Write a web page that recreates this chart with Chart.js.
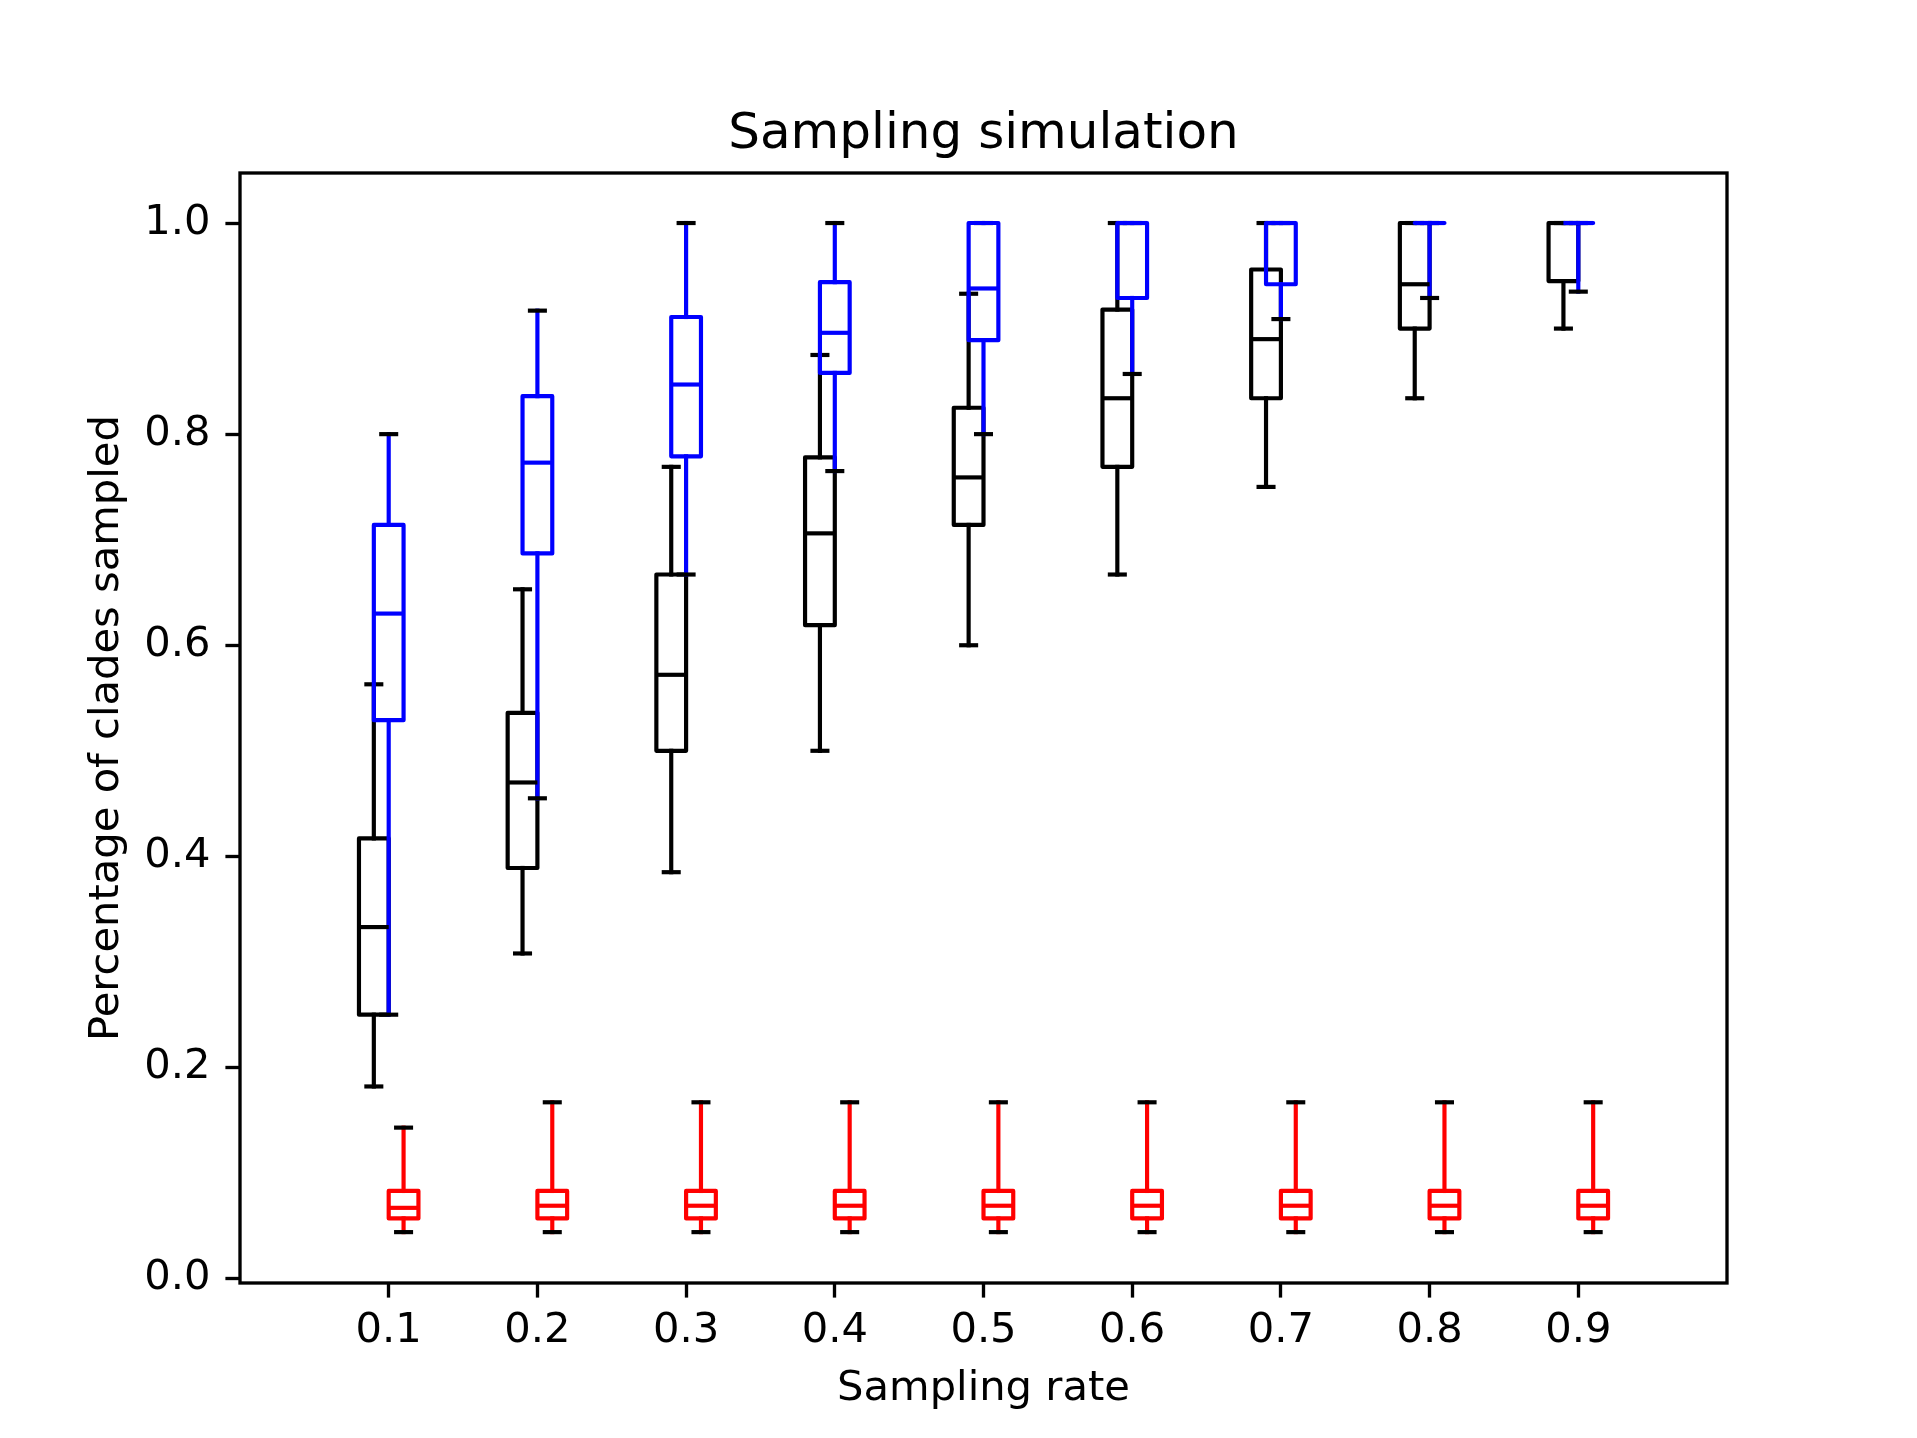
<!DOCTYPE html>
<html>
<head>
<meta charset="utf-8">
<script src="https://cdn.jsdelivr.net/npm/chart.js@4.4.1/dist/chart.umd.min.js"></script>
<style>
  html, body { margin: 0; padding: 0; background: #fff; }
  canvas { display: block; }
</style>
</head>
<body>
<canvas id="chart" width="1917" height="1438"></canvas>
<script>
// sampling rates (x categories) and their tick labels
const rates = [0.1, 0.2, 0.3, 0.4, 0.5, 0.6, 0.7, 0.8, 0.9];
const rateLabels = ['0.1', '0.2', '0.3', '0.4', '0.5', '0.6', '0.7', '0.8', '0.9'];
const yTicks = [0.0, 0.2, 0.4, 0.6, 0.8, 1.0];

// each entry: [lower whisker, q1, median, q3, upper whisker]
const blackStats = [
  [0.182, 0.250, 0.333, 0.417, 0.563],
  [0.308, 0.389, 0.470, 0.536, 0.653],
  [0.385, 0.500, 0.572, 0.667, 0.769],
  [0.500, 0.619, 0.706, 0.778, 0.875],
  [0.600, 0.714, 0.759, 0.825, 0.933],
  [0.667, 0.769, 0.834, 0.918, 1.000],
  [0.750, 0.834, 0.890, 0.956, 1.000],
  [0.834, 0.900, 0.942, 1.000, 1.000],
  [0.900, 0.945, 1.000, 1.000, 1.000]
];
const blueStats = [
  [0.250, 0.529, 0.630, 0.714, 0.800],
  [0.455, 0.687, 0.773, 0.836, 0.917],
  [0.667, 0.779, 0.847, 0.911, 1.000],
  [0.765, 0.858, 0.896, 0.944, 1.000],
  [0.800, 0.889, 0.938, 1.000, 1.000],
  [0.857, 0.929, 1.000, 1.000, 1.000],
  [0.909, 0.942, 1.000, 1.000, 1.000],
  [0.929, 1.000, 1.000, 1.000, 1.000],
  [0.935, 1.000, 1.000, 1.000, 1.000]
];
const redStats = [
  [0.044, 0.057, 0.067, 0.083, 0.143],
  [0.044, 0.057, 0.069, 0.083, 0.167],
  [0.044, 0.057, 0.069, 0.083, 0.167],
  [0.044, 0.057, 0.069, 0.083, 0.167],
  [0.044, 0.057, 0.069, 0.083, 0.167],
  [0.044, 0.057, 0.069, 0.083, 0.167],
  [0.044, 0.057, 0.069, 0.083, 0.167],
  [0.044, 0.057, 0.069, 0.083, 0.167],
  [0.044, 0.057, 0.069, 0.083, 0.167]
];

const boxWidth = 0.02;   // in x units
const capWidth = 0.01;
const lineW = 4.17;

function makeDataset(label, stats, offset, color) {
  return {
    label: label,
    data: rates.map((r, i) => ({ x: r + offset, y: stats[i][2], stats: stats[i] })),
    color: color,
    pointRadius: 0,
    showLine: false
  };
}

// draws the boxes from each dataset's points via the chart scales
const boxPlotPlugin = {
  id: 'boxplot',
  afterDatasetsDraw(chart) {
    const ctx = chart.ctx;
    const xs = chart.scales.x, ys = chart.scales.y;
    ctx.save();
    ctx.lineWidth = lineW;
    ctx.lineCap = 'square';
    ctx.lineJoin = 'round';
    const seg = (x1, y1, x2, y2, color) => {
      ctx.strokeStyle = color;
      ctx.beginPath();
      ctx.moveTo(x1, y1);
      ctx.lineTo(x2, y2);
      ctx.stroke();
    };
    chart.data.datasets.forEach(ds => {
      ds.data.forEach(p => {
        const [lo, q1, med, q3, hi] = p.stats;
        const cx = xs.getPixelForValue(p.x);
        const bl = xs.getPixelForValue(p.x - boxWidth / 2);
        const br = xs.getPixelForValue(p.x + boxWidth / 2);
        const cl = xs.getPixelForValue(p.x - capWidth / 2);
        const cr = xs.getPixelForValue(p.x + capWidth / 2);
        // whiskers
        seg(cx, ys.getPixelForValue(q1), cx, ys.getPixelForValue(lo), ds.color);
        seg(cx, ys.getPixelForValue(q3), cx, ys.getPixelForValue(hi), ds.color);
        // caps (black)
        seg(cl, ys.getPixelForValue(lo), cr, ys.getPixelForValue(lo), '#000000');
        seg(cl, ys.getPixelForValue(hi), cr, ys.getPixelForValue(hi), '#000000');
        // box
        ctx.strokeStyle = ds.color;
        ctx.beginPath();
        ctx.moveTo(bl, ys.getPixelForValue(q1));
        ctx.lineTo(br, ys.getPixelForValue(q1));
        ctx.lineTo(br, ys.getPixelForValue(q3));
        ctx.lineTo(bl, ys.getPixelForValue(q3));
        ctx.closePath();
        ctx.stroke();
      });
    });
    // medians on top of everything
    ctx.lineCap = 'butt';
    chart.data.datasets.forEach(ds => {
      ds.data.forEach(p => {
        const y = ys.getPixelForValue(p.stats[2]);
        seg(xs.getPixelForValue(p.x - boxWidth / 2), y, xs.getPixelForValue(p.x + boxWidth / 2), y, ds.color);
      });
    });
    ctx.restore();
  },
  afterDraw(chart) {
    const a = chart.chartArea;
    const ctx = chart.ctx;
    ctx.save();
    ctx.strokeStyle = '#000000';
    ctx.lineWidth = 3.33;
    ctx.lineJoin = 'miter';
    ctx.strokeRect(a.left, a.top, a.right - a.left, a.bottom - a.top);
    ctx.restore();
  }
};

const tickFont = { family: 'DejaVu Sans', size: 41.67 };

const config = {
  type: 'scatter',
  data: {
    datasets: [
      makeDataset('black', blackStats, -0.01, '#000000'),
      makeDataset('blue', blueStats, 0, '#0000ff'),
      makeDataset('red', redStats, 0.01, '#ff0000')
    ]
  },
  options: {
    responsive: false,
    animation: false,
    devicePixelRatio: 1,
    layout: {
      padding: { left: 40, right: 190, top: 0, bottom: 0 }
    },
    plugins: {
      legend: { display: false },
      tooltip: { enabled: false },
      title: {
        display: true,
        text: 'Sampling simulation',
        color: '#000000',
        fullSize: false,
        font: { family: 'DejaVu Sans', size: 50, weight: 'normal' },
        padding: { top: 105, bottom: 8 }
      }
    },
    scales: {
      x: {
        type: 'linear',
        min: 0,
        max: 1,
        afterBuildTicks: scale => { scale.ticks = rates.map(v => ({ value: v })); },
        afterFit: scale => { scale.height = 155; },
        ticks: {
          color: '#000000',
          font: tickFont,
          padding: 9,
          maxRotation: 0,
          callback: (v) => rateLabels[rates.findIndex(r => Math.abs(r - v) < 1e-9)]
        },
        grid: {
          drawOnChartArea: false,
          drawTicks: true,
          tickLength: 14.6,
          tickWidth: 3.33,
          tickColor: '#000000'
        },
        border: { display: false },
        title: {
          display: true,
          text: 'Sampling rate',
          color: '#000000',
          font: tickFont,
          padding: { top: 0, bottom: 24 }
        }
      },
      y: {
        type: 'linear',
        min: -0.0042,
        max: 1.0474,
        afterBuildTicks: scale => { scale.ticks = yTicks.map(v => ({ value: v })); },
        afterFit: scale => { scale.width = 200; },
        ticks: {
          color: '#000000',
          font: tickFont,
          padding: 15,
          callback: (v) => v.toFixed(1)
        },
        grid: {
          drawOnChartArea: false,
          drawTicks: true,
          tickLength: 14.6,
          tickWidth: 3.33,
          tickColor: '#000000'
        },
        border: { display: false },
        title: {
          display: true,
          text: 'Percentage of clades sampled',
          color: '#000000',
          font: tickFont,
          padding: { top: 42, bottom: 0 }
        }
      }
    }
  },
  plugins: [boxPlotPlugin]
};

new Chart(document.getElementById('chart'), config);
</script>
</body>
</html>
